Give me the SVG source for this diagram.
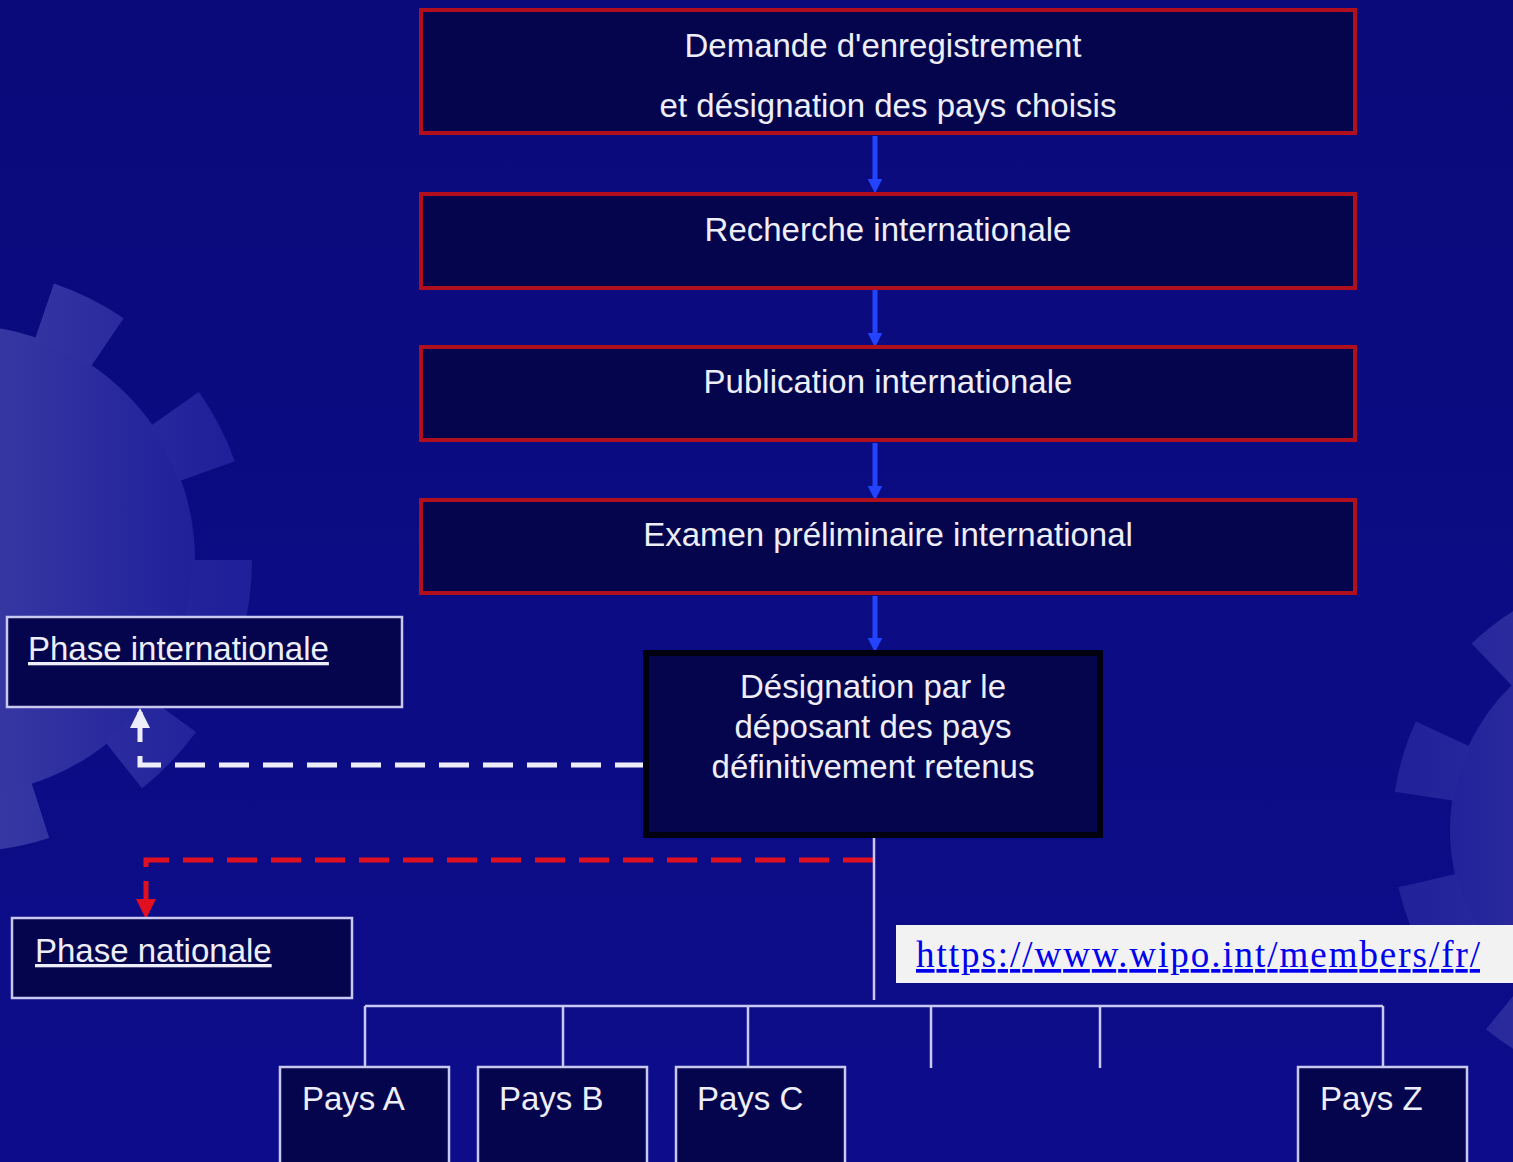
<svg xmlns="http://www.w3.org/2000/svg" width="1513" height="1162" viewBox="0 0 1513 1162">
<defs>
<style>
.main{fill:#05054e;stroke:#b0101e;stroke-width:4}
.side{fill:#05054e;stroke:#c8c8f0;stroke-width:2.5}
.dark{fill:#05054e;stroke:#000010;stroke-width:6}
.t{font-family:"Liberation Sans",Arial,sans-serif;font-size:33px;fill:#eeeefa}
.c{text-anchor:middle}
.u{text-decoration:underline}
.tree{stroke:#c8c8f0;stroke-width:2.5;fill:none}
.blue{stroke:#2244ff;stroke-width:5;fill:none}
</style>
<linearGradient id="bg" x1="0" y1="0" x2="0" y2="1">
<stop offset="0" stop-color="#0a0a7a"/>
<stop offset="1" stop-color="#0d0d8c"/>
</linearGradient>
<linearGradient id="gl" x1="0" y1="0" x2="1" y2="0">
<stop offset="0" stop-color="#5656b0"/>
<stop offset="1" stop-color="#20209a"/>
</linearGradient>
<linearGradient id="gr" x1="1" y1="0" x2="0" y2="0">
<stop offset="0" stop-color="#5050ac"/>
<stop offset="1" stop-color="#22229a"/>
</linearGradient>
<marker id="ab" viewBox="0 0 10 10" refX="5" refY="5" markerWidth="3" markerHeight="3" orient="auto"><path d="M0,0 L10,5 L0,10 z" fill="#2244ff"/></marker>
<marker id="aw" viewBox="0 0 10 10" refX="8" refY="5" markerWidth="4" markerHeight="4" orient="auto"><path d="M0,0 L10,5 L0,10 z" fill="#eeeefa"/></marker>
<marker id="ar" viewBox="0 0 10 10" refX="8" refY="5" markerWidth="4" markerHeight="4" orient="auto"><path d="M0,0 L10,5 L0,10 z" fill="#e01020"/></marker>
</defs>
<rect width="1513" height="1162" fill="url(#bg)"/>
<g id="gear-left">
<circle cx="-40" cy="560" r="235" fill="url(#gl)"/>
<circle cx="-40" cy="560" r="262" fill="none" stroke="url(#gl)" stroke-width="60" stroke-dasharray="70 95"/>
</g>
<g id="gear-right">
<circle cx="1650" cy="830" r="200" fill="url(#gr)"/>
<circle cx="1650" cy="830" r="228" fill="none" stroke="url(#gr)" stroke-width="60" stroke-dasharray="65 85"/>
</g>

<g id="connectors">
<line class="blue" x1="875" y1="136" x2="875" y2="186" marker-end="url(#ab)"/>
<line class="blue" x1="875" y1="290" x2="875" y2="340" marker-end="url(#ab)"/>
<line class="blue" x1="875" y1="443" x2="875" y2="493" marker-end="url(#ab)"/>
<line class="blue" x1="875" y1="596" x2="875" y2="645" marker-end="url(#ab)"/>
<path d="M645,765 H140 V712" fill="none" stroke="#eeeefa" stroke-width="5" stroke-dasharray="30 14" marker-end="url(#aw)"/>
<path d="M873,860 H146 V915" fill="none" stroke="#e01020" stroke-width="5" stroke-dasharray="30 14" marker-end="url(#ar)"/>
<path class="tree" d="M874,838 V1000 M365,1006 H1383 M365,1006 V1067 M563,1006 V1067 M748,1006 V1067 M931,1006 V1068 M1100,1006 V1068 M1383,1006 V1067"/>
</g>

<g id="n-demande">
<rect class="main" x="421" y="10" width="934" height="123"/>
<text class="t c" x="883" y="57">Demande d'enregistrement</text>
<text class="t c" x="888" y="117">et désignation des pays choisis</text>
</g>
<g id="n-recherche">
<rect class="main" x="421" y="194" width="934" height="94"/>
<text class="t c" x="888" y="241">Recherche internationale</text>
</g>
<g id="n-publication">
<rect class="main" x="421" y="347" width="934" height="93"/>
<text class="t c" x="888" y="393">Publication internationale</text>
</g>
<g id="n-examen">
<rect class="main" x="421" y="500" width="934" height="93"/>
<text class="t c" x="888" y="546">Examen préliminaire international</text>
</g>
<g id="n-designation">
<rect class="dark" x="646" y="653" width="454" height="182"/>
<text class="t c" x="873" y="698">Désignation par le</text>
<text class="t c" x="873" y="738">déposant des pays</text>
<text class="t c" x="873" y="778">définitivement retenus</text>
</g>
<g id="n-phase-int">
<rect class="side" x="7" y="617" width="395" height="90"/>
<text class="t u" x="28" y="660">Phase internationale</text>
</g>
<g id="n-phase-nat">
<rect class="side" x="12" y="918" width="340" height="80"/>
<text class="t u" x="35" y="962">Phase nationale</text>
</g>
<g id="n-pays-a">
<rect class="side" x="280" y="1067" width="169" height="100"/>
<text class="t" x="302" y="1110">Pays A</text>
</g>
<g id="n-pays-b">
<rect class="side" x="478" y="1067" width="169" height="100"/>
<text class="t" x="499" y="1110">Pays B</text>
</g>
<g id="n-pays-c">
<rect class="side" x="676" y="1067" width="169" height="100"/>
<text class="t" x="697" y="1110">Pays C</text>
</g>
<g id="n-pays-z">
<rect class="side" x="1298" y="1067" width="169" height="100"/>
<text class="t" x="1320" y="1110">Pays Z</text>
</g>
<g id="url">
<rect x="896" y="925" width="617" height="58" fill="#f2f2f2"/>
<text x="916" y="967" font-family="'Liberation Serif','Times New Roman',serif" font-size="37" fill="#0000ee" text-decoration="underline" textLength="564" lengthAdjust="spacing">https://www.wipo.int/members/fr/</text>
</g>
</svg>
